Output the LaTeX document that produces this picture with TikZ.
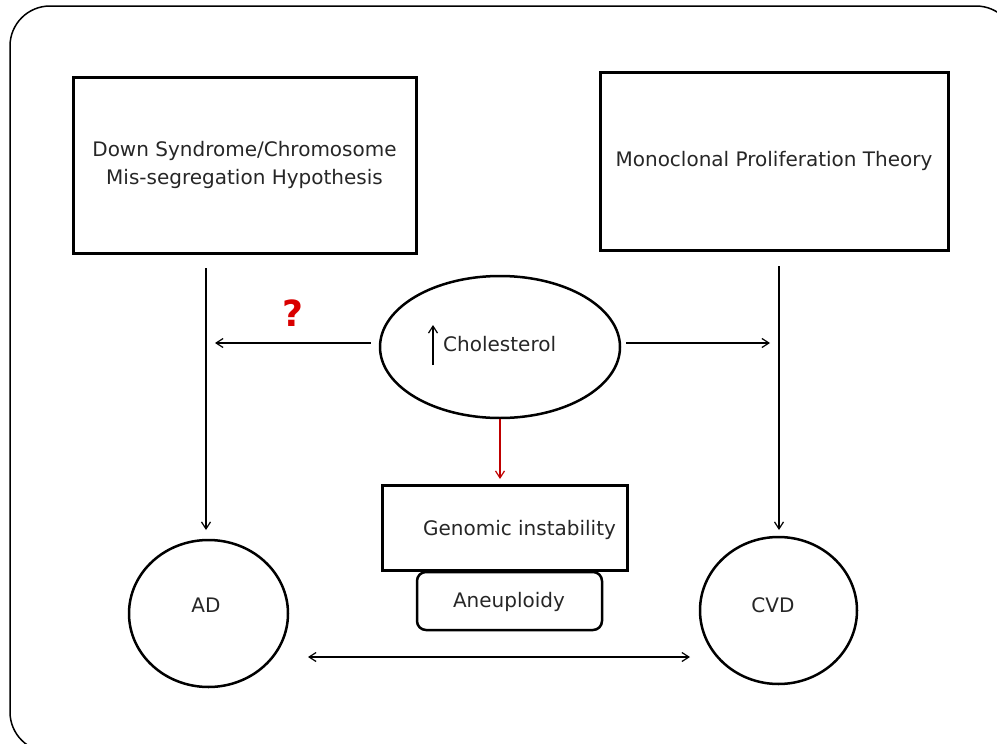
\documentclass[tikz,border=0pt]{standalone}
\usepackage{fontspec}
\setmainfont{DejaVu Sans}
\usetikzlibrary{shapes.geometric,arrows.meta}
\begin{document}
\begin{tikzpicture}[x=1pt,y=-1pt,
  txt/.style={font=\fontsize{20}{28}\selectfont, text=black!85},
  boxthick/.style={draw, line width=3pt, inner sep=0pt, txt},
  roundo/.style={draw, line width=2.5pt, inner sep=0pt, txt},
  arr/.style={line width=1.2pt, -{Straight Barb[length=7pt,width=9pt,line width=1.2pt]}},
  darr/.style={line width=1.2pt, {Straight Barb[length=7pt,width=9pt,line width=1.2pt]}-{Straight Barb[length=7pt,width=9pt,line width=1.2pt]}}
]
\useasboundingbox (0,0) rectangle (997,744);
\draw[line width=1.5pt, rounded corners=40pt] (10,6) rectangle (1016,752);

\node[boxthick, minimum width=343pt, minimum height=176pt, align=center] (lbox) at (244.5,165)
  {Down Syndrome/Chromosome\\Mis-segregation Hypothesis};
\node[boxthick, minimum width=348pt, minimum height=178pt] (rbox) at (774,161)
  {Monoclonal Proliferation Theory};
\node[roundo, ellipse, minimum width=240pt, minimum height=142pt] (chol) at (500,347) {};
\node[txt, anchor=west, inner sep=0pt] (choltxt) at (443,344) {Cholesterol};
\coordinate (upb) at (433,365);
\coordinate (upt) at (433,325);
\draw[arr] (upb) -- (upt);

\node[boxthick, minimum width=245pt, minimum height=85pt] (gen) at (504.5,527.5) {};
\node[txt, inner sep=0pt] (gentxt) at (519.5,530) {Genomic instability};
\node[roundo, rounded corners=9pt, minimum width=185pt, minimum height=58pt] (aneu) at (509.5,601) {};
\node[txt, inner sep=0pt] (aneutxt) at (509,602) {Aneuploidy};

\node[roundo, ellipse, minimum width=159pt, minimum height=147pt] (ad) at (208.5,613.5) {};
\node[txt, inner sep=0pt] (adtxt) at (206,605) {AD};
\node[roundo, ellipse, minimum width=157pt, minimum height=147pt] (cvd) at (778.5,610.5) {};
\node[txt, inner sep=0pt] (cvdtxt) at (773,605) {CVD};

\node[font=\fontsize{36}{36}\selectfont\bfseries, text=red!85!black, inner sep=0pt] (q) at (293,313) {?};

% connectors
\coordinate (ls) at (206,268);
\coordinate (le) at (206,530);
\draw[arr] (ls) -- (le);
\coordinate (rs) at (779,266);
\coordinate (re) at (779,530);
\draw[arr] (rs) -- (re);
\coordinate (hl) at (215,343);
\draw[arr] (chol.west) ++(-8,-4) coordinate (cw) (cw) -- (hl);
\coordinate (hr) at (770,343);
\draw[arr] (chol.east) ++(5,-4) coordinate (ce) (ce) -- (hr);
\coordinate (rd) at (500,479);
\draw[arr, red!75!black] (chol.south) -- (rd);
\coordinate (bl) at (308,657);
\coordinate (br) at (690,657);
\draw[darr] (bl) -- (br);
\end{tikzpicture}
\end{document}
